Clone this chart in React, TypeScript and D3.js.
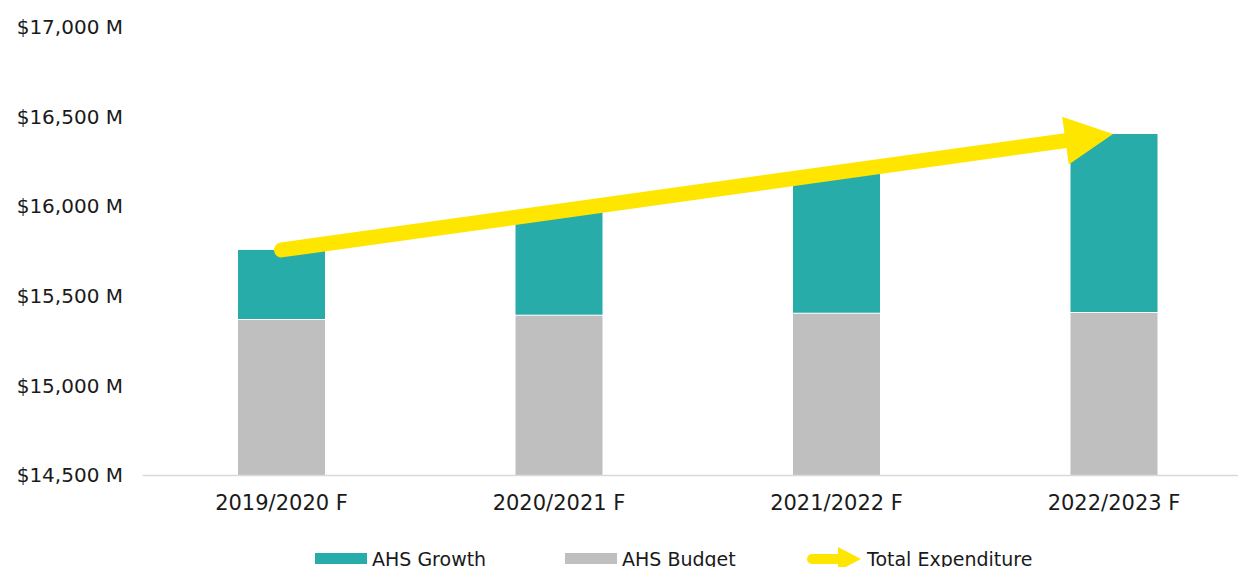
import React, { useEffect, useRef } from "react";
import * as d3 from "d3";

const years = ["2019/2020 F", "2020/2021 F", "2021/2022 F", "2022/2023 F"];
const ahsBudget = [15365, 15389, 15400, 15404];
const ahsGrowth = [391, 579, 780, 999];
const yTicks = [14500, 15000, 15500, 16000, 16500, 17000];

const TEAL = "#28aca9";
const GREY = "#bfbfbf";
const YELLOW = "#ffe600";

const App = () => {
  const svgRef = useRef<SVGSVGElement | null>(null);

  useEffect(() => {
    const width = 1238;
    const height = 567;
    const svg = d3.select(svgRef.current);
    svg.selectAll("*").remove();

    const x = d3
      .scaleBand<string>()
      .domain(years)
      .range([142.75, 1252.75])
      .paddingInner(0.6865)
      .paddingOuter(0.34325);

    const y = d3.scaleLinear().domain([14500, 17000]).range([475, 27]);

    const font = "'DejaVu Sans', sans-serif";

    // y labels
    svg
      .append("g")
      .selectAll("text")
      .data(yTicks)
      .join("text")
      .attr("x", 123)
      .attr("y", (d) => y(d))
      .attr("dy", "0.36em")
      .attr("text-anchor", "end")
      .attr("font-family", font)
      .attr("font-size", 20)
      .attr("fill", "#1a1a1a")
      .text((d) => `$${d3.format(",")(d)} M`);

    const totals = years.map((_, i) => ahsBudget[i] + ahsGrowth[i]);

    // bars
    const g = svg.append("g");
    g.selectAll("rect.budget")
      .data(years)
      .join("rect")
      .attr("class", "budget")
      .attr("x", (d) => x(d)!)
      .attr("width", x.bandwidth())
      .attr("y", (_, i) => y(ahsBudget[i]))
      .attr("height", (_, i) => y(14500) - y(ahsBudget[i]))
      .attr("fill", GREY);

    g.selectAll("rect.growth")
      .data(years)
      .join("rect")
      .attr("class", "growth")
      .attr("x", (d) => x(d)!)
      .attr("width", x.bandwidth())
      .attr("y", (_, i) => y(totals[i]))
      .attr("height", (_, i) => y(ahsBudget[i]) - y(totals[i]) - 1)
      .attr("fill", TEAL);

    // x axis
    svg
      .append("line")
      .attr("x1", x.range()[0])
      .attr("x2", width)
      .attr("y1", y(14500) + 0.5)
      .attr("y2", y(14500) + 0.5)
      .attr("stroke", "#d9d9d9")
      .attr("stroke-width", 1.5);

    svg
      .append("g")
      .selectAll("text")
      .data(years)
      .join("text")
      .attr("x", (d) => x(d)! + x.bandwidth() / 2)
      .attr("y", 510)
      .attr("text-anchor", "middle")
      .attr("font-family", font)
      .attr("font-size", 21)
      .attr("fill", "#1a1a1a")
      .text((d) => d);

    // total expenditure arrow: first total -> last total
    const last = years.length - 1;
    const x0 = x(years[0])! + x.bandwidth() / 2;
    const y0 = y(totals[0]);
    const x1 = x(years[last])! + x.bandwidth() / 2 - 1;
    const y1 = y(totals[last]);
    const len = Math.hypot(x1 - x0, y1 - y0);
    const ux = (x1 - x0) / len;
    const uy = (y1 - y0) / len;
    const headLen = 48;
    const headHalf = 24;
    const bx = x1 - ux * headLen;
    const by = y1 - uy * headLen;

    svg
      .append("line")
      .attr("x1", x0)
      .attr("y1", y0)
      .attr("x2", bx + ux * 2)
      .attr("y2", by + uy * 2)
      .attr("stroke", YELLOW)
      .attr("stroke-width", 15)
      .attr("stroke-linecap", "round");

    svg
      .append("path")
      .attr(
        "d",
        d3.line()([
          [x1, y1],
          [bx - uy * headHalf, by + ux * headHalf],
          [bx + uy * headHalf, by - ux * headHalf],
        ]) + "Z"
      )
      .attr("fill", YELLOW);

    // legend
    const legend = svg.append("g").attr("font-family", font).attr("font-size", 19).attr("fill", "#1a1a1a");
    legend.append("rect").attr("x", 315).attr("y", 553).attr("width", 52).attr("height", 11).attr("fill", TEAL);
    legend.append("text").attr("x", 372).attr("y", 566).text("AHS Growth");
    legend.append("rect").attr("x", 565).attr("y", 553).attr("width", 52).attr("height", 11).attr("fill", GREY);
    legend.append("text").attr("x", 622).attr("y", 566).text("AHS Budget");
    legend
      .append("line")
      .attr("x1", 812)
      .attr("x2", 842)
      .attr("y1", 559)
      .attr("y2", 559)
      .attr("stroke", YELLOW)
      .attr("stroke-width", 10)
      .attr("stroke-linecap", "round");
    legend
      .append("path")
      .attr("d", d3.line()([[838, 547], [861, 559], [838, 571]]) + "Z")
      .attr("fill", YELLOW);
    legend.append("text").attr("x", 867).attr("y", 566).text("Total Expenditure");
  }, []);

  return (
    <svg
      ref={svgRef}
      width={height_w()}
      height={567}
      style={{ position: "absolute", left: 0, top: 0, display: "block", background: "#fff" }}
    />
  );
};

function height_w() {
  return 1238;
}

export default App;
